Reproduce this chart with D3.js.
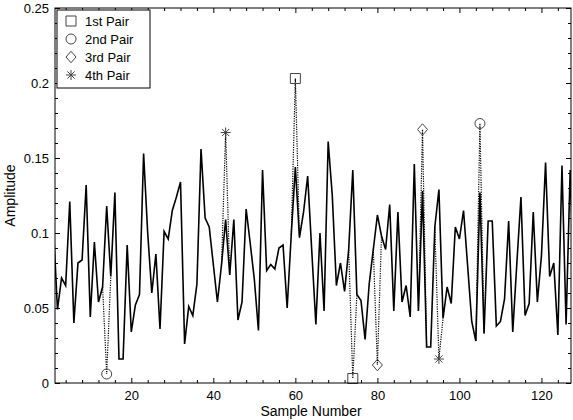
<!DOCTYPE html>
<html>
<head>
<meta charset="utf-8">
<script src="https://cdn.jsdelivr.net/npm/d3@7"></script>
<style>
  html, body { margin: 0; padding: 0; background: #fff; }
  svg { display: block; }
  text { font-family: "Liberation Sans", Arial, sans-serif; fill: #000; }
</style>
</head>
<body>
<svg id="chart" width="573" height="420"></svg>
<script>
// ---- data ----
const amplitude = [
  0.105, 0.049, 0.070, 0.065, 0.121, 0.040, 0.080, 0.082, 0.132, 0.044,
  0.094, 0.054, 0.064, 0.118, 0.071, 0.127, 0.016, 0.016, 0.092, 0.034,
  0.052, 0.059, 0.153, 0.100, 0.060, 0.086, 0.036, 0.101, 0.096, 0.115,
  0.124, 0.134, 0.026, 0.051, 0.045, 0.066, 0.156, 0.110, 0.104, 0.079,
  0.054, 0.079, 0.109, 0.072, 0.109, 0.042, 0.054, 0.116, 0.093, 0.069,
  0.035, 0.142, 0.075, 0.079, 0.076, 0.090, 0.092, 0.050, 0.099, 0.144,
  0.097, 0.114, 0.138, 0.088, 0.039, 0.100, 0.048, 0.161, 0.125, 0.065,
  0.080, 0.061, 0.089, 0.142, 0.059, 0.055, 0.029, 0.066, 0.089, 0.112,
  0.098, 0.089, 0.119, 0.048, 0.114, 0.054, 0.065, 0.044, 0.146, 0.048,
  0.128, 0.024, 0.024, 0.104, 0.129, 0.043, 0.064, 0.053, 0.104, 0.096,
  0.115, 0.078, 0.041, 0.028, 0.127, 0.033, 0.108, 0.108, 0.038, 0.041,
  0.056, 0.108, 0.034, 0.080, 0.124, 0.045, 0.053, 0.114, 0.054, 0.085,
  0.147, 0.071, 0.080, 0.032, 0.145, 0.039, 0.142, 0.060
];
const pairNames = ["1st Pair", "2nd Pair", "3rd Pair", "4th Pair"];
const pairSymbols = ["square", "circle", "diamond", "asterisk"];
const pairSamples = [[60, 74], [14, 105], [80, 91], [43, 95]];
const pairValues = [[0.203, 0.003], [0.006, 0.173], [0.012, 0.169], [0.167, 0.016]];
const xTicks = [20, 40, 60, 80, 100, 120];
const yTicks = [0, 0.05, 0.1, 0.15, 0.2, 0.25];
const yTickLabels = ["0", "0.05", "0.1", "0.15", "0.2", "0.25"];

// ---- layout ----
const svg = d3.select("#chart");
const m = { left: 55, right: 571, top: 8, bottom: 383 };
const x = d3.scaleLinear().domain([1.4, 127.2]).range([m.left, m.right]);
const y = d3.scaleLinear().domain([0, 0.25]).range([m.bottom, m.top]);

svg.append("clipPath").attr("id", "plotclip")
  .append("rect")
  .attr("x", m.left).attr("y", m.top - 20)
  .attr("width", m.right - m.left).attr("height", m.bottom - m.top + 40);

const series = amplitude.map((v, i) => ({ n: i + 1, v }));

const plot = svg.append("g").attr("clip-path", "url(#plotclip)");

// main line
plot.append("path")
  .datum(series)
  .attr("fill", "none")
  .attr("stroke", "#000")
  .attr("stroke-width", 1.6)
  .attr("stroke-linejoin", "miter")
  .attr("d", d3.line().x(d => x(d.n)).y(d => y(d.v)));

// dotted connections for pairs
const markerColor = "#444";
function symbolPath(type, size) {
  const r = size / 2;
  if (type === "square") return `M${-r},${-r}H${r}V${r}H${-r}Z`;
  if (type === "circle") return `M${r},0A${r},${r} 0 1,1 ${-r},0A${r},${r} 0 1,1 ${r},0Z`;
  if (type === "diamond") return `M0,${-r*1.15}L${r},0L0,${r*1.15}L${-r},0Z`;
  const d = r * 0.72;
  return `M0,${-r}V${r}M${-r},0H${r}M${-d},${-d}L${d},${d}M${-d},${d}L${d},${-d}`;
}

pairSamples.forEach((samples, p) => {
  samples.forEach((s, k) => {
    const val = pairValues[p][k];
    const pts = [
      { n: s - 1, v: amplitude[s - 2] },
      { n: s, v: val },
      { n: s + 1, v: amplitude[s] }
    ];
    svg.append("path")
      .datum(pts)
      .attr("fill", "none")
      .attr("stroke", "#000")
      .attr("stroke-width", 1.2)
      .attr("stroke-dasharray", "1.2,1.2")
      .attr("d", d3.line().x(d => x(d.n)).y(d => y(d.v)));
    svg.append("path")
      .attr("transform", `translate(${x(s)},${y(val)})`)
      .attr("d", symbolPath(pairSymbols[p], 10))
      .attr("fill", "none")
      .attr("stroke", markerColor)
      .attr("stroke-width", 1);
  });
});

// frame
svg.append("rect")
  .attr("x", m.left).attr("y", m.top)
  .attr("width", m.right - m.left).attr("height", m.bottom - m.top)
  .attr("fill", "none").attr("stroke", "#000").attr("stroke-width", 1);

// axes (ticks inside, MATLAB style)
const xMinor = d3.range(4, 128, 4).filter(v => v % 20 !== 0);
const yMinor = d3.range(1, 25).map(v => v / 100).filter(v => Math.round(v * 100) % 5 !== 0);

const gx = svg.append("g").attr("transform", `translate(0,${m.bottom})`)
  .call(d3.axisBottom(x).tickValues(xTicks).tickSize(-5).tickPadding(8).tickFormat(d3.format("d")));
const gxTop = svg.append("g").attr("transform", `translate(0,${m.top})`)
  .call(d3.axisTop(x).tickValues(xTicks).tickSize(-5).tickFormat(""));
const gxm = svg.append("g").attr("transform", `translate(0,${m.bottom})`)
  .call(d3.axisBottom(x).tickValues(xMinor).tickSize(-3).tickFormat(""));
const gxmTop = svg.append("g").attr("transform", `translate(0,${m.top})`)
  .call(d3.axisTop(x).tickValues(xMinor).tickSize(-3).tickFormat(""));

const gy = svg.append("g").attr("transform", `translate(${m.left},0)`)
  .call(d3.axisLeft(y).tickValues(yTicks).tickSize(-5).tickPadding(6)
    .tickFormat((d, i) => yTickLabels[i]));
const gyR = svg.append("g").attr("transform", `translate(${m.right},0)`)
  .call(d3.axisRight(y).tickValues(yTicks).tickSize(-5).tickFormat(""));
const gym = svg.append("g").attr("transform", `translate(${m.left},0)`)
  .call(d3.axisLeft(y).tickValues(yMinor).tickSize(-3).tickFormat(""));
const gymR = svg.append("g").attr("transform", `translate(${m.right},0)`)
  .call(d3.axisRight(y).tickValues(yMinor).tickSize(-3).tickFormat(""));

[gx, gxTop, gxm, gxmTop, gy, gyR, gym, gymR].forEach(g => {
  g.select(".domain").remove();
  g.selectAll("line").attr("stroke", "#000");
  g.selectAll("text").style("font-family", "'Liberation Sans', Arial, sans-serif")
    .style("font-size", "13px").attr("fill", "#000");
});

// axis titles
svg.append("text")
  .attr("x", (m.left + m.right) / 2 - 2).attr("y", 416)
  .attr("text-anchor", "middle").style("font-size", "14px")
  .text("Sample Number");
svg.append("text")
  .attr("transform", `translate(15,${(m.top + m.bottom) / 2}) rotate(-90)`)
  .attr("text-anchor", "middle").style("font-size", "14px")
  .text("Amplitude");

// legend
const lg = svg.append("g");
lg.append("rect")
  .attr("x", 57).attr("y", 10).attr("width", 93).attr("height", 78)
  .attr("fill", "#fff").attr("stroke", "#000").attr("stroke-width", 1);
pairNames.forEach((name, i) => {
  const cy = 21 + i * 18;
  lg.append("path")
    .attr("transform", `translate(71,${cy})`)
    .attr("d", symbolPath(pairSymbols[i], 10))
    .attr("fill", "none").attr("stroke", markerColor).attr("stroke-width", 1);
  lg.append("text")
    .attr("x", 85).attr("y", cy + 5)
    .style("font-size", "13px")
    .text(name);
});
</script>
</body>
</html>
